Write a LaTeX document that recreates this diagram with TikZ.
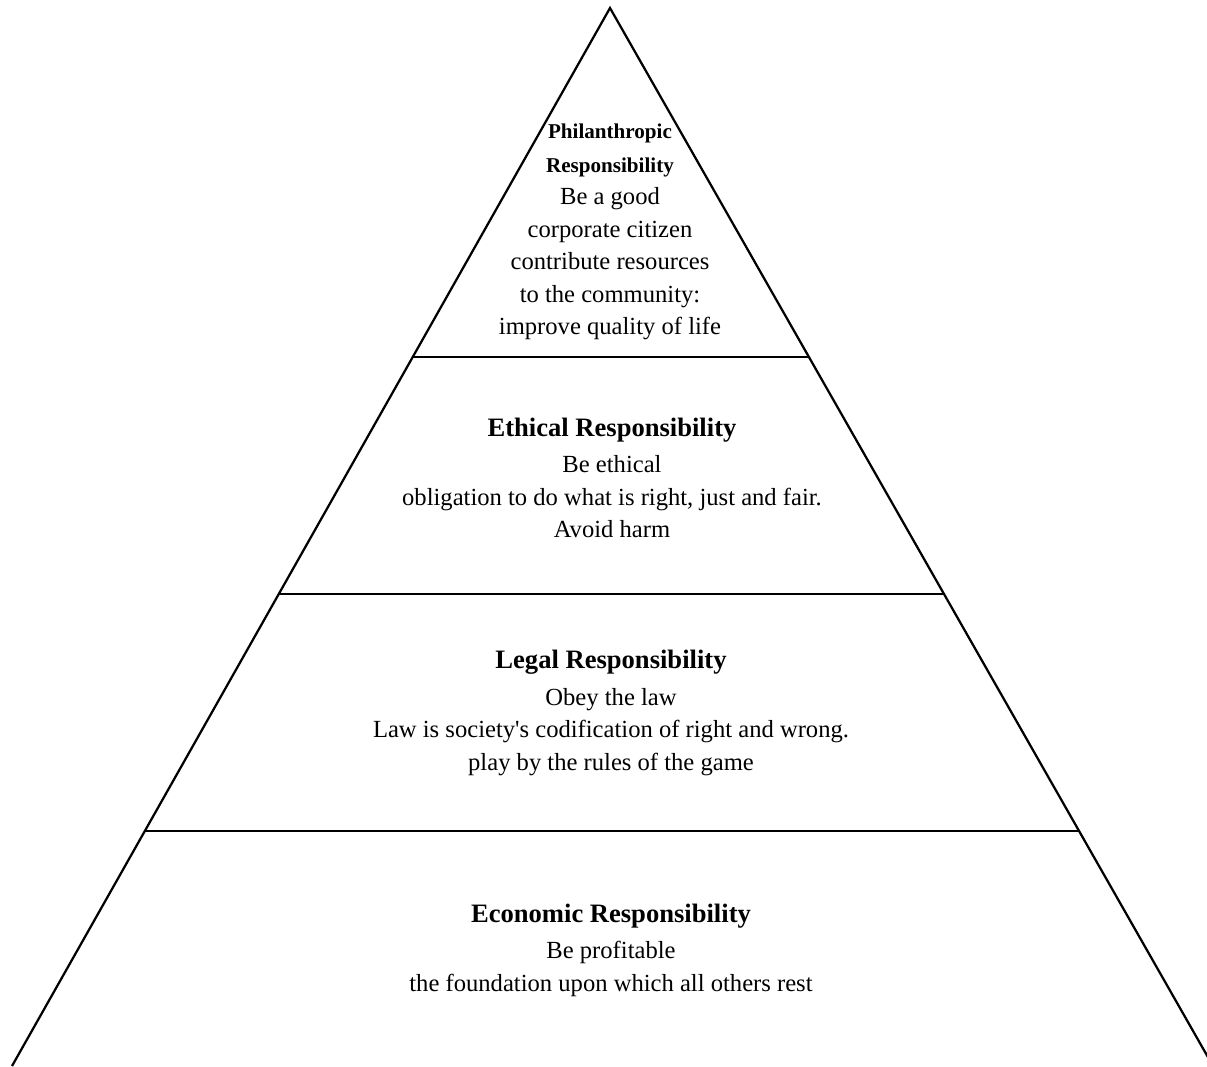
\documentclass[tikz,border=0pt]{standalone}
\usepackage{fontspec}
\setmainfont{Liberation Serif}
\usetikzlibrary{positioning,calc}

\begin{document}
\begin{tikzpicture}[
    x=0.025cm,y=-0.025cm,
    edge/.style={line width=1.6pt,black},
    tier/.style={align=center,font=\fontsize{17.5}{23.1}\selectfont,anchor=center},
]
\useasboundingbox (0,0) rectangle (1207,1066);
\clip (0,0) rectangle (1207,1066);
\coordinate (apex) at (610,8);
\coordinate (bl) at (12,1066);
\coordinate (br) at (1213,1066);
\draw[edge] (bl) -- (apex) -- (br);
\draw[edge] ($(apex)!0.3299!(bl)$) -- ($(apex)!0.3299!(br)$);
\draw[edge] ($(apex)!0.5539!(bl)$) -- ($(apex)!0.5539!(br)$);
\draw[edge] ($(apex)!0.7779!(bl)$) -- ($(apex)!0.7779!(br)$);
\node[tier] (phil) at (610,232) {{\fontsize{15}{24}\selectfont\bfseries Philanthropic}\\[1pt]
  {\fontsize{15}{24}\selectfont\bfseries Responsibility}\\Be a good\\corporate citizen\\
  contribute resources\\ to the community:\\improve quality of life};
\node[tier] (eth) at (612,478) {{\fontsize{18.9}{27}\selectfont\bfseries Ethical Responsibility}\\[3pt]
  Be ethical\\obligation to do what is right, just and fair.\\Avoid harm};
\node[tier] (leg) at (611,713) {{\fontsize{18.9}{27}\selectfont\bfseries Legal Responsibility}\\[3pt]
  Obey the law\\Law is society\textquotesingle s codification of right and wrong.\\play by the rules of the game};
\node[tier] (eco) at (611,950) {{\fontsize{18.9}{27}\selectfont\bfseries Economic Responsibility}\\[3pt]
  Be profitable\\the foundation upon which all others rest};
\end{tikzpicture}
\end{document}
